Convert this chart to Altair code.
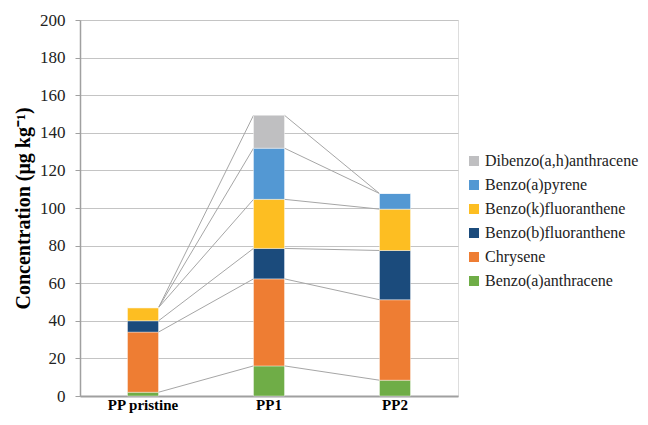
import altair as alt
import pandas as pd

samples = ["PP pristine", "PP1", "PP2"]
compounds = ["Benzo(a)anthracene", "Chrysene", "Benzo(b)fluoranthene",
             "Benzo(k)fluoranthene", "Benzo(a)pyrene", "Dibenzo(a,h)anthracene"]
colors = ["#6FAD47", "#EE7D33", "#1B4B7C", "#FDBE22", "#5398D3", "#BFBFC1"]

baa = [2.0, 16.0, 8.4]
chr_ = [32.0, 46.3, 42.8]
bbf = [6.0, 16.2, 26.2]
bkf = [7.0, 26.1, 22.0]
bap = [0.0, 27.2, 8.3]
dba = [0.0, 17.5, 0.0]
series = [baa, chr_, bbf, bkf, bap, dba]

rows = []
for ci, (name, vals) in enumerate(zip(compounds, series)):
    for s, v in zip(samples, vals):
        rows.append({"sample": s, "compound": name, "value": v, "idx": ci})
df = pd.DataFrame(rows)

# series lines: cumulative tops between adjacent bars
line_rows = []
for ci in range(len(compounds)):
    tops = [sum(series[k][j] for k in range(ci + 1)) for j in range(len(samples))]
    for j in range(len(samples) - 1):
        line_rows.append({"from": samples[j], "to": samples[j + 1],
                          "y1": tops[j], "y2": tops[j + 1]})
lines = pd.DataFrame(line_rows)

font = "Liberation Serif"
xscale = alt.Scale(domain=samples, paddingInner=0, paddingOuter=0)
yscale = alt.Scale(domain=[0, 200])

xaxis = alt.Axis(title=None, labelAngle=0, labelFont=font, labelFontSize=15,
                 labelFontWeight="bold", labelColor="black", ticks=False,
                 domainColor="#a0a0a0", domainWidth=2, labelPadding=1)
yaxis = alt.Axis(title="Concentration (μg kg⁻¹)", values=list(range(0, 201, 20)),
                 labelOverlap=False,
                 titleFont=font, titleFontSize=20, titleFontWeight="bold",
                 titleColor="black", titlePadding=6,
                 labelFont=font, labelFontSize=17, labelColor="#222",
                 tickColor="#a0a0a0", tickSize=5, domainColor="#a0a0a0",
                 domainWidth=1.5, gridColor="#c4c4c4", gridWidth=1, labelPadding=10)

rules = alt.Chart(lines).mark_rule(color="#a6a6a6", strokeWidth=1,
                                   xOffset=15.5, x2Offset=-15.5).encode(
    x=alt.X("from:N", scale=xscale, sort=samples, axis=xaxis),
    x2="to:N",
    y=alt.Y("y1:Q", scale=yscale, axis=yaxis),
    y2="y2:Q",
)

bars = alt.Chart(df).mark_bar(size=31, stroke="white", strokeWidth=0.4).encode(
    x=alt.X("sample:N", scale=xscale, sort=samples, axis=xaxis),
    y=alt.Y("value:Q", stack="zero", scale=yscale, axis=yaxis),
    color=alt.Color("compound:N",
                    scale=alt.Scale(domain=compounds[::-1], range=colors[::-1]),
                    legend=alt.Legend(title=None, orient="none", legendX=386, legendY=133,
                                      labelFont=font, labelFontSize=16, labelColor="#222",
                                      symbolType="square", symbolSize=100,
                                      symbolStrokeWidth=0, rowPadding=8, labelOffset=3)),
    order=alt.Order("idx:Q", sort="ascending"),
)

chart = alt.layer(rules, bars).properties(
    width=378, height=376,
    autosize=alt.AutoSizeParams(type="none"),
    padding={"left": 72, "top": 12, "right": 182, "bottom": 18},
).configure_view(stroke="#a0a0a0", strokeWidth=1).configure(
    background="white", font=font
).configure_axis(labelFont=font, titleFont=font).configure_legend(labelFont=font)

chart.save("out.html", embed_options={"renderer": "svg", "actions": False})
